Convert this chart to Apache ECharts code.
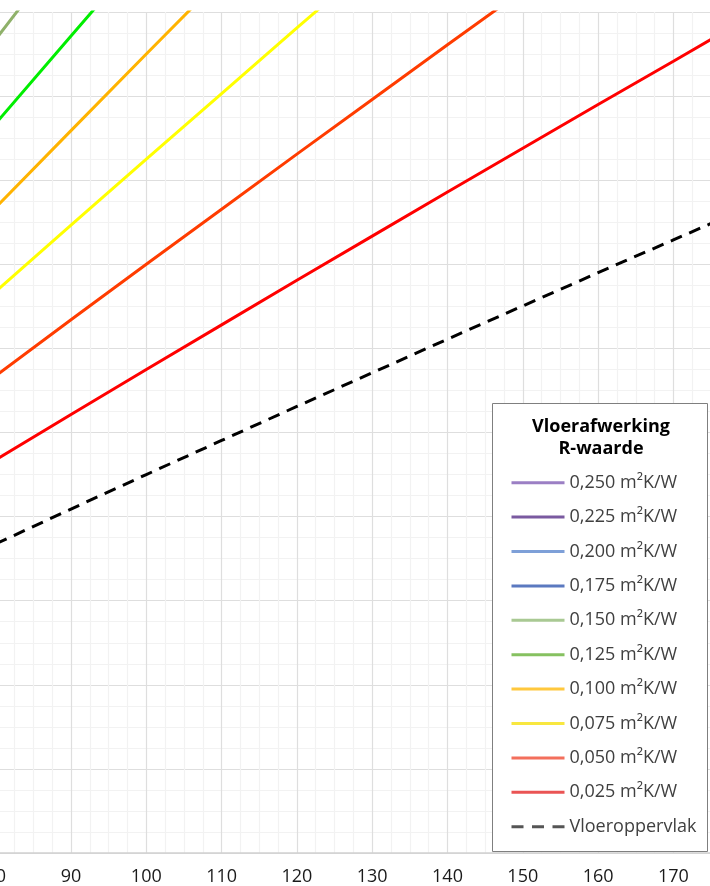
<!DOCTYPE html>
<html>
<head>
<meta charset="utf-8">
<script src="https://cdn.jsdelivr.net/npm/echarts@6/dist/echarts.min.js"></script>
<style>
  html, body { margin: 0; padding: 0; background: #fff; }
  #chart { width: 710px; height: 886px; }
</style>
</head>
<body>
<div id="chart"></div>
<script>
// x-waarden (W/m²) en temperaturen (°C)
const xVals = [80, 90, 100, 110, 120, 130, 140, 150, 160, 170, 175, 180];
const vloeroppervlak = [27.35, 28.18, 29.00, 29.81, 30.62, 31.42, 32.22, 33.01, 33.80, 34.58, 34.97, 35.36];
const r025 = [29.35, 30.43, 31.50, 32.56, 33.62, 34.67, 35.72, 36.76, 37.80, 38.83, 39.35, 39.86];
const r050 = [31.35, 32.68, 34.00, 35.31, 36.62, 37.92, 39.22, 40.51, 41.80, 43.08, 43.72, 44.36];
const r075 = [33.35, 34.93, 36.50, 38.06, 39.62, 41.17, 42.72, 44.26, 45.80, 47.33, 48.10, 48.86];
const r100 = [35.35, 37.18, 39.00, 40.81, 42.62, 44.42, 46.22, 48.01, 49.80, 51.58, 52.47, 53.36];
const r125 = [37.35, 39.43, 41.50, 43.56, 45.62, 47.67, 49.72, 51.76, 53.80, 55.83, 56.85, 57.86];
const r150 = [39.35, 41.68, 44.00, 46.31, 48.62, 50.92, 53.22, 55.51, 57.80, 60.08, 61.22, 62.36];
const r175 = [41.35, 43.93, 46.50, 49.06, 51.62, 54.17, 56.72, 59.26, 61.80, 64.33, 65.60, 66.86];
const r200 = [43.35, 46.18, 49.00, 51.81, 54.62, 57.42, 60.22, 63.01, 65.80, 68.58, 69.97, 71.36];
const r225 = [45.35, 48.43, 51.50, 54.56, 57.62, 60.67, 63.72, 66.76, 69.80, 72.83, 74.35, 75.86];
const r250 = [47.35, 50.68, 54.00, 57.31, 60.62, 63.92, 67.22, 70.51, 73.80, 77.08, 78.72, 80.36];

const names = ['0,250 m²K/W', '0,225 m²K/W', '0,200 m²K/W', '0,175 m²K/W', '0,150 m²K/W',
  '0,125 m²K/W', '0,100 m²K/W', '0,075 m²K/W', '0,050 m²K/W', '0,025 m²K/W', 'Vloeroppervlak'];
const values = [r250, r225, r200, r175, r150, r125, r100, r075, r050, r025, vloeroppervlak];
// kleur van de lijn in de grafiek
const lineColors = ['#9b7fc4', '#7a5aa0', '#7ea0d8', '#5b79c0', '#8fb16a',
  '#00ee00', '#ffb300', '#ffff00', '#ff3c00', '#ff0000', '#000000'];
// kleur in de legenda (gedempt)
const legendColors = ['#9b7fc4', '#7a5aa0', '#7ea0d8', '#5b79c0', '#a9c993',
  '#86c160', '#ffc83d', '#f8e73f', '#f36f5c', '#ea5454', '#555555'];

const chart = echarts.init(document.getElementById('chart'));

const series = names.map((name, i) => ({
  name: name,
  type: 'line',
  data: xVals.map((x, j) => [x, values[i][j]]),
  symbol: 'none',
  smooth: false,
  z: 2,
  itemStyle: { color: lineColors[i] },
  lineStyle: {
    color: lineColors[i],
    width: 3,
    type: i === names.length - 1 ? [12, 8] : 'solid'
  }
}));

const option = {
  animation: false,
  backgroundColor: '#fff',
  grid: { left: -4.3, right: -38.7, top: 12, bottom: 33, containLabel: false, outerBoundsMode: 'none' },
  xAxis: {
    type: 'value',
    min: 80,
    max: 180,
    interval: 10,
    axisLine: { show: true, onZero: false, lineStyle: { color: '#d0d0d0', width: 1.5 } },
    axisTick: { show: false },
    axisLabel: { fontFamily: 'Open Sans', fontSize: 18, color: '#1a1a1a', margin: 15 },
    splitLine: { show: true, lineStyle: { color: '#dedede', width: 1.2 } },
    minorTick: { show: false, splitNumber: 4 },
    minorSplitLine: { show: true, lineStyle: { color: '#f2f2f2', width: 1.2 } }
  },
  yAxis: {
    type: 'value',
    min: 20,
    max: 40,
    interval: 2,
    axisLine: { show: false },
    axisTick: { show: false },
    axisLabel: { show: false },
    splitLine: { show: true, lineStyle: { color: '#dedede', width: 1.2 } },
    minorTick: { show: false, splitNumber: 4 },
    minorSplitLine: { show: true, lineStyle: { color: '#f2f2f2', width: 1.2 } }
  },
  legend: {
    orient: 'vertical',
    left: 510,
    top: 472.7,
    padding: 0,
    itemWidth: 53,
    itemHeight: 20,
    itemGap: 14.4,
    selectedMode: false,
    z: 10,
    textStyle: { fontFamily: 'Open Sans', fontSize: 18, color: '#404040', lineHeight: 20 },
    data: names.map((n, i) => ({
      name: n,
      itemStyle: { color: 'rgba(0,0,0,0)', borderWidth: 0, opacity: 0 },
      lineStyle: {
        color: legendColors[i],
        width: 3,
        type: i === names.length - 1 ? [12, 8.5] : 'solid'
      }
    }))
  },
  graphic: [
    {
      type: 'rect',
      z: 5,
      shape: { x: 492.5, y: 403.5, width: 215, height: 448 },
      style: { fill: '#fff', stroke: '#7f7f7f', lineWidth: 1 }
    },
    {
      type: 'text',
      z: 6,
      style: { text: 'Vloerafwerking', x: 601, y: 427, align: 'center', verticalAlign: 'middle',
        font: 'bold 18px "Open Sans"', fill: '#000' }
    },
    {
      type: 'text',
      z: 6,
      style: { text: 'R-waarde', x: 601, y: 449, align: 'center', verticalAlign: 'middle',
        font: 'bold 18px "Open Sans"', fill: '#000' }
    }
  ],
  series: series
};

chart.setOption(option);
</script>
</body>
</html>
